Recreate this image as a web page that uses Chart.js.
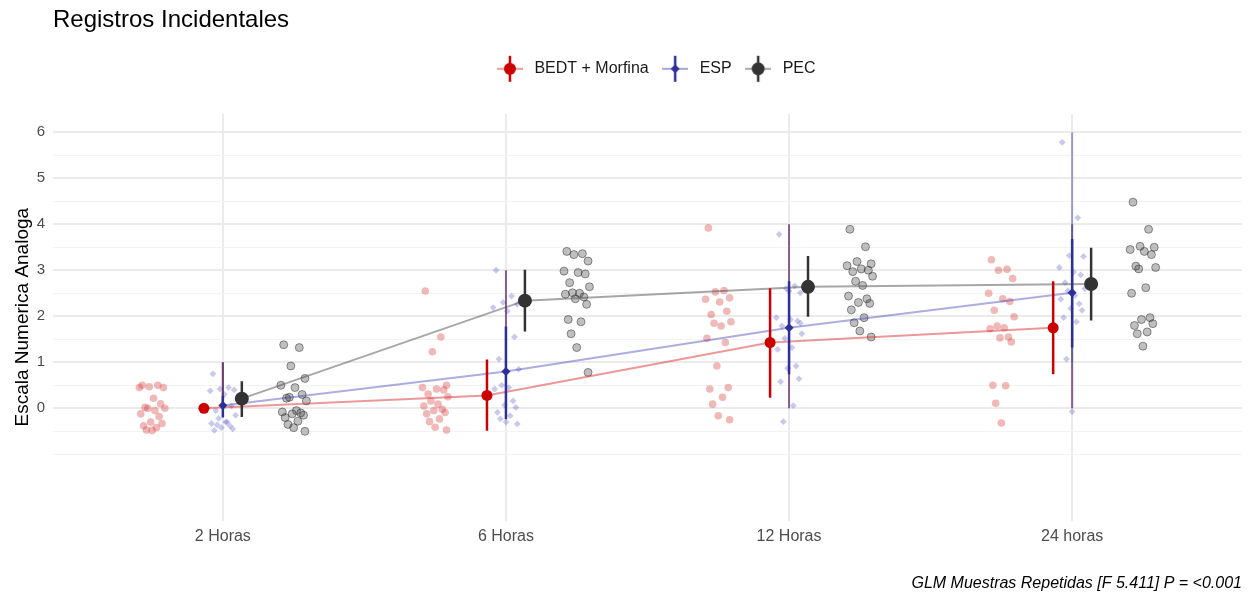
<!DOCTYPE html>
<html>
<head>
<meta charset="utf-8">
<script src="https://cdn.jsdelivr.net/npm/chart.js@4.4.0/dist/chart.umd.min.js"></script>
<style>
  html, body { margin: 0; padding: 0; background: #fff; }
</style>
</head>
<body>
<canvas id="myChart" width="1251" height="594"></canvas>
<script>
// categories and tick values
const times = ['2 Horas', '6 Horas', '12 Horas', '24 horas'];
const yTicks = [-1, -0.5, 0, 0.5, 1, 1.5, 2, 2.5, 3, 3.5, 4, 4.5, 5, 5.5, 6];

// group means and error bars
const bedtMean = [0.00, 0.28, 1.43, 1.75];
const bedtLow  = [0.00, -0.49, 0.23, 0.74];
const bedtHigh = [0.00, 1.06, 2.61, 2.76];

const espMean = [0.06, 0.80, 1.75, 2.51];
const espLow  = [-0.20, -0.24, 0.74, 1.32];
const espHigh = [0.27, 1.78, 2.76, 3.68];

const pecMean = [0.21, 2.34, 2.64, 2.70];
const pecLow  = [-0.19, 1.67, 1.99, 1.91];
const pecHigh = [0.59, 3.01, 3.31, 3.49];

// thin ranges drawn at the ESP position
const rangeBlue  = [[0, 1], [0, 3], [0, 4], [0, 6]];
const rangeRed   = [[0, 1], [0, 3], [0, 4], [0, 1]];
const rangeBlack = [[0, 1], null, null, [1, 4]];

// individual observations per time point
const bedtRaw = [
  [0.50, 0.50, 0.47, 0.45, 0.45, 0.22, 0.10, 0.02, 0.00, 0.00, -0.05, -0.12, -0.18, -0.30, -0.33, -0.38, -0.42, -0.47, -0.48],
  [2.55, 1.55, 1.23, 0.50, 0.45, 0.42, 0.40, 0.31, 0.25, 0.16, 0.09, 0.05, -0.02, -0.05, -0.09, -0.12, -0.23, -0.29, -0.41, -0.47],
  [3.92, 2.56, 2.53, 2.40, 2.37, 2.31, 2.11, 2.04, 1.88, 1.85, 1.79, 1.52, 1.43, 0.92, 0.45, 0.42, 0.24, 0.09, -0.16, -0.25],
  [3.23, 3.02, 3.00, 2.82, 2.50, 2.38, 2.32, 2.13, 1.99, 1.79, 1.75, 1.73, 1.55, 1.53, 1.44, 0.50, 0.49, 0.11, -0.32]
];
const espRaw = [
  [0.75, 0.45, 0.42, 0.40, 0.38, 0.30, 0.05, -0.05, -0.15, -0.22, -0.30, -0.33, -0.38, -0.42, -0.45, -0.48, -0.30, -0.36],
  [3.00, 2.44, 2.30, 2.26, 2.19, 2.11, 1.55, 1.07, 0.85, 0.50, 0.45, 0.42, 0.16, 0.07, 0.02, -0.09, -0.16, -0.23, -0.30, -0.34],
  [3.78, 2.66, 2.60, 2.51, 1.97, 1.93, 1.90, 1.79, 1.62, 1.52, 1.32, 1.28, 0.92, 0.87, 0.64, 0.58, 0.06, -0.29, 2.55, 1.85],
  [5.78, 4.14, 3.32, 3.30, 3.06, 2.96, 2.90, 2.73, 2.60, 2.55, 2.45, 2.37, 2.27, 2.17, 2.13, 1.97, 1.88, 1.07, -0.07]
];
const pecRaw = [
  [1.38, 1.32, 0.92, 0.65, 0.50, 0.45, 0.30, 0.22, 0.16, 0.24, -0.05, -0.08, -0.10, -0.12, -0.15, -0.20, -0.28, -0.35, -0.42, -0.50],
  [3.41, 3.36, 3.34, 3.20, 2.98, 2.95, 2.92, 2.73, 2.64, 2.51, 2.50, 2.48, 2.42, 2.38, 2.26, 1.93, 1.88, 1.62, 1.32, 0.78],
  [3.89, 3.51, 3.19, 3.14, 3.10, 3.03, 3.00, 2.97, 2.87, 2.76, 2.67, 2.44, 2.38, 2.30, 2.28, 2.14, 1.97, 1.86, 1.68, 1.55],
  [4.48, 3.89, 3.52, 3.50, 3.45, 3.41, 3.34, 3.09, 3.06, 3.03, 2.62, 2.50, 1.97, 1.93, 1.84, 1.80, 1.66, 1.62, 1.35]
];

const FONT = "'Liberation Sans', Arial, sans-serif";
const dodge = 0.067;      // offset of the summary marks
const rawShift = 0.25;    // offset of the observation clouds
const jit = [-0.035, 0.02, -0.01, 0.04, -0.045, 0.005, 0.03, -0.025, 0.045, -0.015,
             0.01, -0.04, 0.025, -0.005, 0.035, -0.03, 0.015, -0.02, 0.0, 0.04];

function meanPts(means, off) {
  return means.map((m, i) => ({ x: i + off, y: m }));
}
function barPts(lo, hi, off) {
  let out = [];
  lo.forEach((l, i) => {
    out.push({ x: i + off, y: l }, { x: i + off, y: hi[i] }, { x: i + off, y: null });
  });
  return out;
}
function rangePts(ranges, off) {
  let out = [];
  ranges.forEach((r, i) => {
    if (!r) return;
    out.push({ x: i + off, y: r[0] }, { x: i + off, y: r[1] }, { x: i + off, y: null });
  });
  return out;
}
function rawPts(lists, off) {
  let out = [];
  lists.forEach((vals, i) => {
    vals.forEach((v, k) => out.push({ x: i + off + jit[k % jit.length], y: v }));
  });
  return out;
}

function legendIcon(lineCol, col, style, r) {
  const c = document.createElement('canvas');
  c.width = 26; c.height = 28;
  const g = c.getContext('2d');
  g.strokeStyle = lineCol; g.lineWidth = 2;
  g.beginPath(); g.moveTo(0, 14); g.lineTo(26, 14); g.stroke();
  g.strokeStyle = col; g.lineWidth = 2.5;
  g.beginPath(); g.moveTo(13, 1); g.lineTo(13, 27); g.stroke();
  g.fillStyle = col;
  g.beginPath();
  if (style === 'diamond') {
    g.moveTo(13, 14 - r); g.lineTo(13 + r, 14); g.lineTo(13, 14 + r); g.lineTo(13 - r, 14); g.closePath();
  } else {
    g.arc(13, 14, r, 0, Math.PI * 2);
  }
  g.fill();
  return c;
}
const icons = [
  legendIcon('rgba(220,60,60,0.5)', '#cc0000', 'circle', 6),
  legendIcon('rgba(60,60,180,0.45)', '#2e2e99', 'diamond', 4.5),
  legendIcon('rgba(90,90,90,0.5)', '#333333', 'circle', 6.5)
];

const isMajor = v => v >= 0 && Number.isInteger(v);

// extra room under the legend, and nudge it a bit to the right
const legendGap = {
  id: 'legendGap',
  beforeInit(chart) {
    const lg = chart.legend;
    const fit = lg.fit;
    lg.fit = function () {
      fit.bind(lg)();
      this.height += 27;
    };
    const draw = lg.draw;
    lg.draw = function () {
      this.ctx.save();
      this.ctx.translate(7, 0);
      draw.apply(lg, arguments);
      this.ctx.restore();
    };
  }
};

new Chart(document.getElementById('myChart'), {
  type: 'scatter',
  plugins: [legendGap],
  data: {
    datasets: [
      // means (legend entries)
      { label: 'BEDT + Morfina', data: meanPts(bedtMean, -dodge), pointRadius: 5.5, pointStyle: 'circle',
        backgroundColor: '#cc0000', borderWidth: 0, order: 0 },
      { label: 'ESP', data: meanPts(espMean, 0), pointRadius: 4.5, pointStyle: 'rectRot',
        backgroundColor: '#2e2e99', borderWidth: 0, order: 0 },
      { label: 'PEC', data: meanPts(pecMean, dodge), pointRadius: 7, pointStyle: 'circle',
        backgroundColor: '#333333', borderWidth: 0, order: 0 },
      // error bars
      { label: '', data: barPts(bedtLow, bedtHigh, -dodge), showLine: true, spanGaps: false,
        borderColor: '#cc0000', borderWidth: 2.5, pointRadius: 0, order: 1 },
      { label: '', data: barPts(espLow, espHigh, 0), showLine: true, spanGaps: false,
        borderColor: '#2e2e99', borderWidth: 2.5, pointRadius: 0, order: 1 },
      { label: '', data: barPts(pecLow, pecHigh, dodge), showLine: true, spanGaps: false,
        borderColor: '#333333', borderWidth: 2.5, pointRadius: 0, order: 1 },
      // thin ranges
      { label: '', data: rangePts(rangeBlue, 0), showLine: true, spanGaps: false,
        borderColor: 'rgba(50,50,170,0.45)', borderWidth: 2, pointRadius: 0, order: 2 },
      { label: '', data: rangePts(rangeRed, 0), showLine: true, spanGaps: false,
        borderColor: 'rgba(170,0,0,0.45)', borderWidth: 2, pointRadius: 0, order: 2 },
      { label: '', data: rangePts(rangeBlack, 0), showLine: true, spanGaps: false,
        borderColor: 'rgba(40,40,40,0.55)', borderWidth: 2, pointRadius: 0, order: 2 },
      // connecting lines
      { label: '', data: meanPts(bedtMean, -dodge), showLine: true, borderColor: 'rgba(220,50,50,0.5)',
        borderWidth: 2, pointRadius: 0, order: 3 },
      { label: '', data: meanPts(espMean, 0), showLine: true, borderColor: 'rgba(50,50,180,0.4)',
        borderWidth: 2, pointRadius: 0, order: 3 },
      { label: '', data: meanPts(pecMean, dodge), showLine: true, borderColor: 'rgba(80,80,80,0.5)',
        borderWidth: 2, pointRadius: 0, order: 3 },
      // observations
      { label: '', data: rawPts(bedtRaw, -rawShift), pointRadius: 3.8, pointStyle: 'circle',
        backgroundColor: 'rgba(214,40,40,0.33)', borderWidth: 0, order: 4 },
      { label: '', data: rawPts(espRaw, 0), pointRadius: 3.4, pointStyle: 'rectRot',
        backgroundColor: 'rgba(60,60,190,0.28)', borderWidth: 0, order: 4 },
      { label: '', data: rawPts(pecRaw, rawShift), pointRadius: 4, pointStyle: 'circle',
        backgroundColor: 'rgba(60,60,60,0.33)', borderColor: 'rgba(30,30,30,0.45)', borderWidth: 1, order: 4 }
    ]
  },
  options: {
    responsive: false,
    animation: false,
    events: [],
    layout: { padding: { top: 6, right: 9, bottom: 1, left: 11 } },
    scales: {
      x: {
        type: 'linear', min: -0.6, max: 3.6,
        afterBuildTicks: ax => { ax.ticks = times.map((t, i) => ({ value: i })); },
        ticks: { callback: v => times[v], color: '#4d4d4d', font: { family: FONT, size: 16 }, padding: 6, autoSkip: false },
        grid: { color: '#ebebeb', lineWidth: 2, drawTicks: false },
        border: { display: false }
      },
      y: {
        min: -2.44, max: 6.40,
        afterBuildTicks: ax => { ax.ticks = yTicks.map(v => ({ value: v })); },
        afterFit: ax => { ax.width = 42; },
        ticks: { callback: v => isMajor(v) ? String(v) : '', color: '#4d4d4d',
                 font: { family: FONT, size: 15 }, padding: 8, autoSkip: false },
        grid: {
          color: c => isMajor(c.tick.value) ? '#ebebeb' : '#f3f3f3',
          lineWidth: c => isMajor(c.tick.value) ? 2 : 1,
          drawTicks: false
        },
        border: { display: false },
        title: { display: true, text: 'Escala Numerica Analoga', color: '#000',
                 font: { family: FONT, size: 19 }, padding: { top: 0, bottom: 3 } }
      }
    },
    plugins: {
      tooltip: { enabled: false },
      title: {
        display: true, text: 'Registros Incidentales', align: 'start', fullSize: false,
        color: '#000', font: { family: FONT, size: 24, weight: 'normal' }, padding: { top: 0, bottom: 16 }
      },
      subtitle: {
        display: true, text: 'GLM Muestras Repetidas [F 5.411] P = <0.001', position: 'bottom', align: 'end',
        color: '#000', font: { family: FONT, size: 16, style: 'italic' }, padding: { top: 22, bottom: 0 }
      },
      legend: {
        position: 'top', fullSize: false,
        labels: {
          usePointStyle: true, pointStyleWidth: 33, padding: 10,
          color: '#1a1a1a', font: { family: FONT, size: 16 },
          generateLabels: chart => {
            const items = Chart.defaults.plugins.legend.labels.generateLabels(chart)
              .filter(it => it.text);
            items.forEach((it, k) => { it.pointStyle = icons[k]; });
            return items;
          }
        }
      }
    }
  }
});
</script>
</body>
</html>
